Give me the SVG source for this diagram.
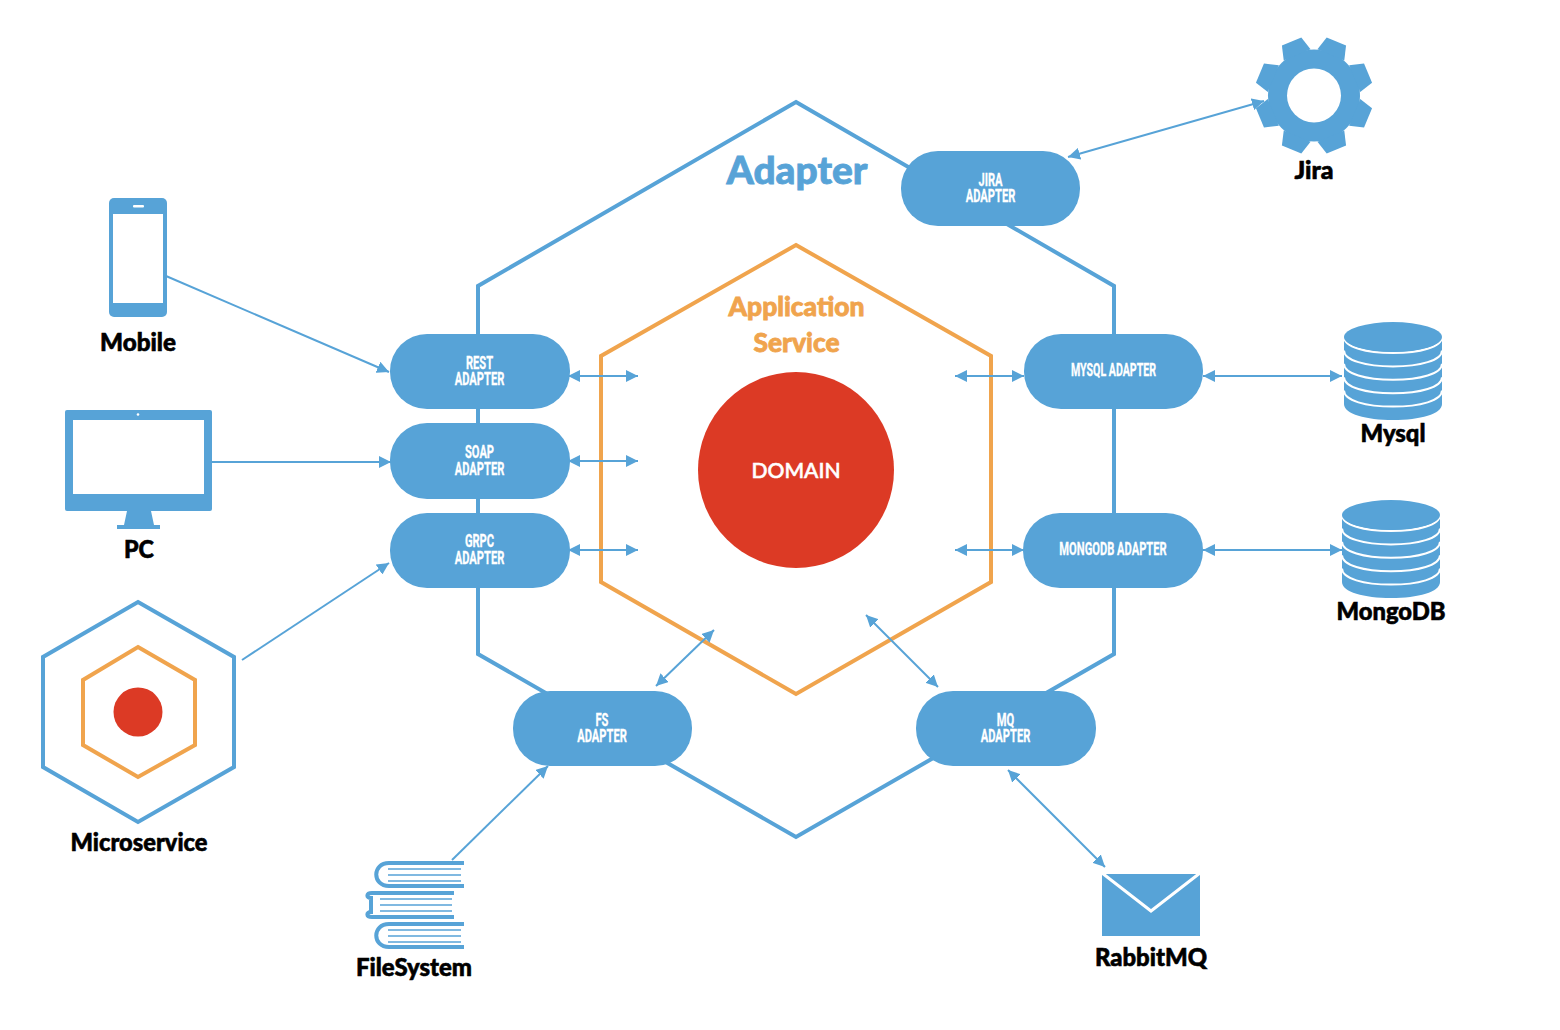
<svg xmlns="http://www.w3.org/2000/svg" xmlns:xlink="http://www.w3.org/1999/xlink" width="1560" height="1030" viewBox="0 0 1560 1030">
<style>
.hb{fill:none;stroke:#57a3d7;stroke-width:4}
.ho{fill:none;stroke:#f0a44d;stroke-width:4}
.pill{fill:#57a3d7}
.blue{fill:#57a3d7}
.lab{font-family:"Lato","Noto Sans",sans-serif;font-weight:900;font-size:24px;fill:#000;stroke:#000;stroke-width:.6;text-anchor:middle}
.ttl{font-family:"Lato","Noto Sans",sans-serif;font-weight:900;text-anchor:middle;stroke-width:.8}
.pt{font-family:"Roboto","Liberation Sans",sans-serif;font-weight:700;font-size:18px;fill:#fff;stroke:#fff;stroke-width:.3;text-anchor:middle}
.c line{stroke:#57a3d7;stroke-width:2;marker-end:url(#a)}
.c line.b{marker-start:url(#a)}
.bk{fill:none;stroke:#57a3d7;stroke-width:4}
.bl{stroke:#57a3d7;stroke-width:1.6}
</style>
<defs>
<marker id="a" markerUnits="userSpaceOnUse" markerWidth="12" markerHeight="12" refX="10" refY="5" orient="auto-start-reverse" viewBox="0 0 10 10"><path d="M0 0L10 5L0 10Z" fill="#57a3d7"/></marker>
<polygon id="tooth" points="-14.500,-44 -10.500,-58.500 10.500,-58.500 14.500,-44" fill="#57a3d7"/>
<g id="db">
<path d="M-49 15V82C-49 92-27 98 0 98S49 92 49 82V15Z" fill="#57a3d7"/>
<path d="M-49 15C-49 25-27 31 0 31S49 25 49 15M-49 28.400C-49 38.400-27 44.400 0 44.400S49 38.400 49 28.400M-49 41.800C-49 51.800-27 57.800 0 57.800S49 51.800 49 41.800M-49 55.200C-49 65.200-27 71.200 0 71.200S49 65.200 49 55.200M-49 68.600C-49 78.600-27 84.600 0 84.600S49 78.600 49 68.600" fill="none" stroke="#fff" stroke-width="2"/>
<ellipse cx="0" cy="15" rx="49" ry="15" fill="#57a3d7"/>
</g>
</defs>
<rect width="1560" height="1030" fill="#fff"/>

<g id="adapter-hexagon">
<polygon class="hb" points="796,102 1114,286 1114,654 796,837 478,654 478,286"/>
<text class="ttl" x="797" y="184" font-size="38" fill="#57a3d7" stroke="#57a3d7" textLength="141" lengthAdjust="spacingAndGlyphs">Adapter</text>
</g>
<g id="application-hexagon">
<polygon class="ho" points="796,245 991,356 991,582 796,694 601,582 601,356"/>
<text class="ttl" x="796.500" y="316" font-size="26" fill="#f0a44d" stroke="#f0a44d" textLength="136" lengthAdjust="spacingAndGlyphs">Application</text>
<text class="ttl" x="796.500" y="352" font-size="26" fill="#f0a44d" stroke="#f0a44d" textLength="86" lengthAdjust="spacingAndGlyphs">Service</text>
</g>
<g id="domain">
<circle cx="796" cy="470" r="98" fill="#dc3a25"/>
<text x="796" y="478" font-family="Lato,'Noto Sans',sans-serif" font-weight="500" font-size="22" fill="#fff" stroke="#fff" stroke-width=".6" text-anchor="middle" textLength="89" lengthAdjust="spacingAndGlyphs">DOMAIN</text>
</g>

<g id="jira">
<g transform="translate(1314 95.500)">
<circle r="46" fill="#57a3d7"/>
<use xlink:href="#tooth" href="#tooth" transform="rotate(22.5)"/>
<use xlink:href="#tooth" href="#tooth" transform="rotate(67.5)"/>
<use xlink:href="#tooth" href="#tooth" transform="rotate(112.5)"/>
<use xlink:href="#tooth" href="#tooth" transform="rotate(157.5)"/>
<use xlink:href="#tooth" href="#tooth" transform="rotate(202.5)"/>
<use xlink:href="#tooth" href="#tooth" transform="rotate(247.5)"/>
<use xlink:href="#tooth" href="#tooth" transform="rotate(292.5)"/>
<use xlink:href="#tooth" href="#tooth" transform="rotate(337.5)"/>
<circle r="27" fill="#fff"/>
</g>
<text class="lab" x="1314" y="179" textLength="39" lengthAdjust="spacingAndGlyphs">Jira</text>
</g>

<g id="connectors" class="c">
<line class="b" x1="1068" y1="157" x2="1264" y2="101"/>
<line x1="166" y1="276" x2="389" y2="372"/>
<line x1="212" y1="462" x2="391" y2="462"/>
<line x1="242" y1="660" x2="389" y2="563"/>
<line class="b" x1="568" y1="376" x2="638" y2="376"/>
<line class="b" x1="568" y1="461" x2="638" y2="461"/>
<line class="b" x1="568" y1="550" x2="638" y2="550"/>
<line class="b" x1="955" y1="376" x2="1024" y2="376"/>
<line class="b" x1="955" y1="550" x2="1024" y2="550"/>
<line class="b" x1="1203" y1="376" x2="1342" y2="376"/>
<line class="b" x1="1203" y1="550" x2="1342" y2="550"/>
<line class="b" x1="656" y1="686" x2="714" y2="630"/>
<line class="b" x1="866" y1="615" x2="938" y2="687"/>
<line x1="452" y1="860" x2="548" y2="766"/>
<line class="b" x1="1008" y1="770" x2="1105" y2="867"/>
</g>

<g id="jira-adapter"><rect class="pill" x="901" y="151" width="179" height="75" rx="37"/><text class="pt" transform="translate(990.500 186) scale(.62 1)"><tspan x="0" y="0">JIRA</tspan><tspan x="0" y="16">ADAPTER</tspan></text></g>
<g id="rest-adapter"><rect class="pill" x="390" y="334" width="180" height="75" rx="37"/><text class="pt" transform="translate(479.500 369) scale(.62 1)"><tspan x="0" y="0">REST</tspan><tspan x="0" y="16">ADAPTER</tspan></text></g>
<g id="soap-adapter"><rect class="pill" x="390" y="423" width="180" height="76" rx="37"/><text class="pt" transform="translate(479.500 458) scale(.62 1)"><tspan x="0" y="0">SOAP</tspan><tspan x="0" y="17">ADAPTER</tspan></text></g>
<g id="grpc-adapter"><rect class="pill" x="390" y="513" width="180" height="75" rx="37"/><text class="pt" transform="translate(479.500 547) scale(.62 1)"><tspan x="0" y="0">GRPC</tspan><tspan x="0" y="17">ADAPTER</tspan></text></g>
<g id="mysql-adapter"><rect class="pill" x="1024" y="334" width="179" height="75" rx="37"/><text class="pt" transform="translate(1113.500 376) scale(.59 1)">MYSQL ADAPTER</text></g>
<g id="mongodb-adapter"><rect class="pill" x="1023" y="513" width="180" height="75" rx="37"/><text class="pt" transform="translate(1113 555) scale(.62 1)">MONGODB ADAPTER</text></g>
<g id="fs-adapter"><rect class="pill" x="513" y="691" width="179" height="75" rx="37"/><text class="pt" transform="translate(602 726) scale(.62 1)"><tspan x="0" y="0">FS</tspan><tspan x="0" y="16">ADAPTER</tspan></text></g>
<g id="mq-adapter"><rect class="pill" x="916" y="691" width="180" height="75" rx="37"/><text class="pt" transform="translate(1005.500 726) scale(.62 1)"><tspan x="0" y="0">MQ</tspan><tspan x="0" y="16">ADAPTER</tspan></text></g>

<g id="mobile">
<rect class="blue" x="109" y="198" width="58" height="119" rx="5"/>
<rect x="113" y="214" width="50" height="89" fill="#fff"/>
<rect x="133" y="205" width="11" height="2.500" rx="1" fill="#fff"/>
<text class="lab" x="138" y="351" textLength="76" lengthAdjust="spacingAndGlyphs">Mobile</text>
</g>

<g id="pc">
<rect class="blue" x="65" y="410" width="147" height="101" rx="2"/>
<rect x="73" y="420" width="131" height="74" fill="#fff"/>
<circle cx="138" cy="414.500" r="1.300" fill="#fff"/>
<polygon class="blue" points="127,511 151,511 154,525 160,525 160,529 117,529 117,525 124,525"/>
<text class="lab" x="139" y="558" textLength="30" lengthAdjust="spacingAndGlyphs">PC</text>
</g>

<g id="microservice">
<polygon class="hb" points="138,602 234,657 234,767 138,822 43,767 43,657"/>
<polygon class="ho" points="138,647 195,680 195,745 138,777 83,745 83,680"/>
<circle cx="138" cy="712" r="24.500" fill="#dc3a25"/>
<text class="lab" x="139" y="851" textLength="137" lengthAdjust="spacingAndGlyphs">Microservice</text>
</g>

<g id="filesystem">
<path class="bk" d="M464 863H389C372 863 372 886 389 886H464"/>
<path class="bk" d="M454 893H372C366 893 366 898 371 898V912C366 912 366 917 372 917H454"/>
<path class="bk" d="M464 924H389C372 924 372 947 389 947H464"/>
<path class="bl" d="M388 869H461M388 875H461M388 881H461M380 899H452M380 905H452M380 911H452M388 930H461M388 936H461M388 942H461"/>
<text class="lab" x="414" y="976" textLength="116" lengthAdjust="spacingAndGlyphs">FileSystem</text>
</g>

<g id="rabbitmq">
<rect class="blue" x="1102" y="874" width="98" height="62"/>
<path d="M1102 873L1151 911L1200 873" fill="none" stroke="#fff" stroke-width="3"/>
<text class="lab" x="1151" y="966" textLength="112" lengthAdjust="spacingAndGlyphs">RabbitMQ</text>
</g>

<g id="mysql">
<use xlink:href="#db" href="#db" x="1393" y="322"/>
<text class="lab" x="1393" y="442" textLength="65" lengthAdjust="spacingAndGlyphs">Mysql</text>
</g>
<g id="mongodb">
<use xlink:href="#db" href="#db" x="1391" y="500"/>
<text class="lab" x="1391" y="620" textLength="109" lengthAdjust="spacingAndGlyphs">MongoDB</text>
</g>
</svg>
